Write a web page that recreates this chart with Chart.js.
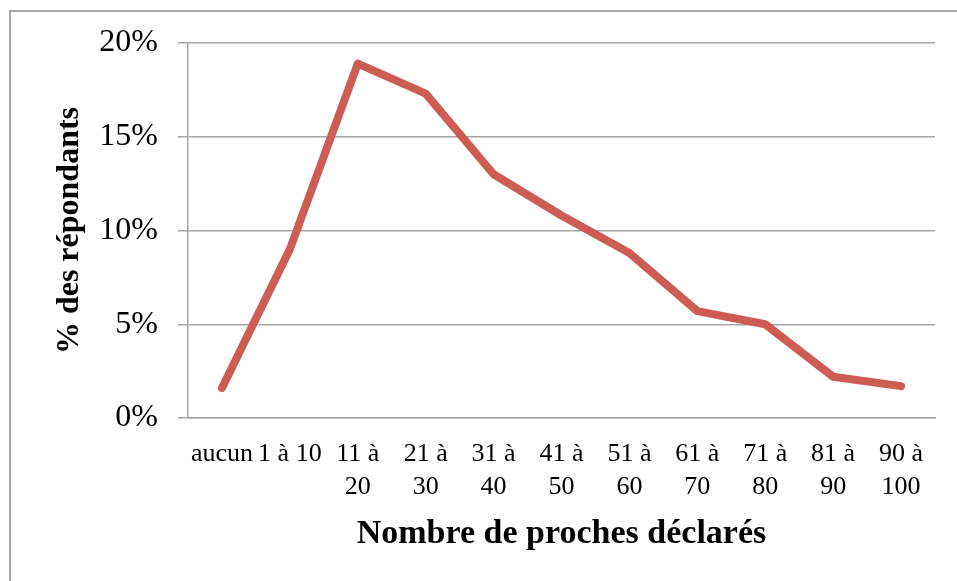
<!DOCTYPE html>
<html>
<head>
<meta charset="utf-8">
<script src="https://cdn.jsdelivr.net/npm/chart.js@4.4.1/dist/chart.umd.min.js"></script>
<style>
  html, body { margin: 0; padding: 0; background: #ffffff; }
  #wrap { position: relative; width: 957px; height: 581px; overflow: hidden; }
  #frame { position: absolute; left: 9px; top: 10px; width: 1000px; height: 700px;
           border-left: 2px solid #a8a8a8; border-top: 2px solid #a8a8a8; box-sizing: border-box; }
  canvas { position: absolute; left: 0; top: 0; }
</style>
</head>
<body>
<div id="wrap">
  <div id="frame"></div>
  <canvas id="c" width="957" height="581"></canvas>
</div>
<script>
const categories = [["aucun"], ["1 à 10"], ["11 à", "20"], ["21 à", "30"], ["31 à", "40"], ["41 à", "50"], ["51 à", "60"], ["61 à", "70"], ["71 à", "80"], ["81 à", "90"], ["90 à", "100"]];
const values = [1.6, 9.0, 18.9, 17.3, 13.0, 10.8, 8.8, 5.7, 5.0, 2.2, 1.7];
const yTicks = [0, 5, 10, 15, 20];
const xTitle = "Nombre de proches déclarés";
const yTitle = "% des répondants";

const serif = "'Liberation Serif', 'DejaVu Serif', serif";
const gridColor = '#a6a6a6';

new Chart(document.getElementById('c'), {
  type: 'line',
  data: {
    labels: categories,
    datasets: [{
      data: values,
      borderColor: '#cd5c55',
      borderWidth: 8,
      borderCapStyle: 'round',
      borderJoinStyle: 'round',
      tension: 0,
      pointRadius: 0,
      pointHoverRadius: 0,
      fill: false
    }]
  },
  options: {
    responsive: false,
    animation: false,
    events: [],
    layout: { padding: { left: 0, right: 22, top: 43, bottom: 0 } },
    plugins: { legend: { display: false }, tooltip: { enabled: false } },
    scales: {
      x: {
        offset: true,
        grid: { display: false, drawTicks: false },
        border: { display: true, color: gridColor, width: 1.5 },
        ticks: {
          color: '#000', autoSkip: false, maxRotation: 0, minRotation: 0, padding: 20,
          font: { family: serif, size: 26, lineHeight: 1.25 }
        },
        title: {
          display: true, text: xTitle, color: '#000',
          font: { family: serif, size: 34, weight: 'bold', lineHeight: 1.2 },
          padding: { top: 0, bottom: 26 }
        },
        afterFit: (s) => { s.height = 163; }
      },
      y: {
        min: 0, max: 20,
        afterBuildTicks: (s) => { s.ticks = yTicks.map(v => ({ value: v })); },
        grid: { color: gridColor, lineWidth: 1.5, tickLength: 10, drawTicks: true },
        border: { display: true, color: gridColor, width: 1.5 },
        ticks: {
          color: '#000', padding: 20,
          font: { family: serif, size: 32 },
          callback: (v) => v + '%'
        },
        title: {
          display: true, text: yTitle, color: '#000',
          font: { family: serif, size: 32, weight: 'bold', lineHeight: 1.2 },
          padding: { top: 51, bottom: 0 }
        },
        afterFit: (s) => { s.width = 188; }
      }
    }
  }
});
</script>
</body>
</html>
